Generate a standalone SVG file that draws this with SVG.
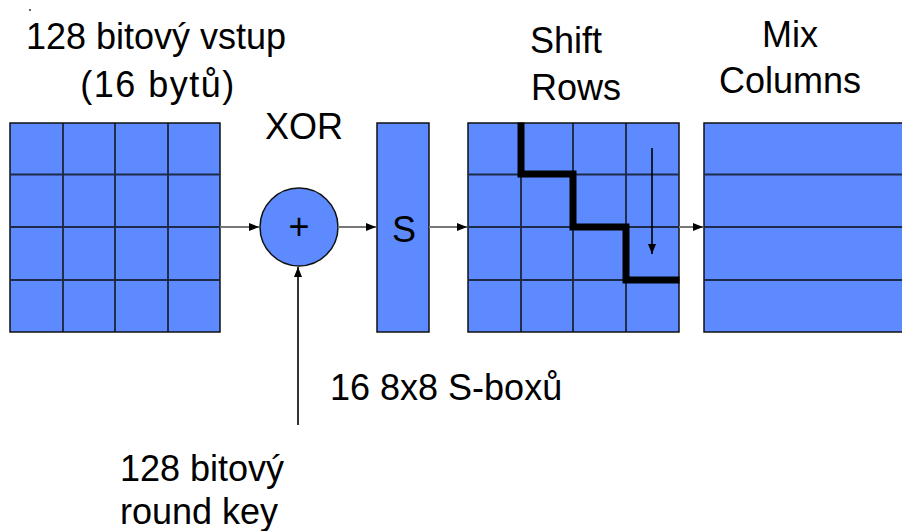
<svg xmlns="http://www.w3.org/2000/svg" width="902" height="531" viewBox="0 0 902 531">
<style>
  .lbl { font-family: "Liberation Sans", Arial, sans-serif; font-size: 36px; fill: #000; }
  .cell { fill: #5d8bff; stroke: #111; stroke-width: 1.5; }
  .row { stroke: #1e2a4a; stroke-width: 2.2; fill: none; }
  .col { stroke: #111; stroke-width: 1.5; fill: none; }
  .flow { stroke: #777; stroke-width: 2; fill: none; }
  .blk { stroke: #000; stroke-width: 1.6; fill: none; }
  .stair { stroke: #000; stroke-width: 7; fill: none; stroke-linejoin: miter; stroke-linecap: square; }
</style>
<defs>
  <marker id="ah" viewBox="0 0 10 10" refX="10" refY="5" markerWidth="10" markerHeight="10" markerUnits="userSpaceOnUse" orient="auto">
    <path d="M0,1 L10,5 L0,9 Z" fill="#000"/>
  </marker>
</defs>
<rect width="902" height="531" fill="#fff"/>
<circle cx="30" cy="10" r="1" fill="#333"/>

<g id="label-input">
  <text class="lbl" x="156" y="49" text-anchor="middle">128 bitový vstup</text>
  <text class="lbl" x="158" y="97" text-anchor="middle" letter-spacing="1.5">(16 bytů)</text>
</g>

<g id="input-grid">
  <rect class="cell" x="10" y="123" width="210" height="209"/>
  <path class="col" d="M63,123V332 M115,123V332 M168,123V332"/>
  <path class="row" d="M10,174.5H220 M10,227H220 M10,280H220"/>
</g>

<g id="xor">
  <text class="lbl" x="304" y="139" text-anchor="middle">XOR</text>
  <circle cx="299" cy="227" r="39" fill="#5d8bff" stroke="#111" stroke-width="1.5"/>
  <text class="lbl" x="299" y="239" text-anchor="middle" font-size="32">+</text>
</g>

<g id="sbox">
  <rect class="cell" x="377" y="123" width="52" height="209"/>
  <text class="lbl" x="404" y="242" text-anchor="middle" font-size="34">S</text>
</g>

<g id="label-sbox">
  <text class="lbl" x="330" y="400" font-size="38">16 8x8 S-boxů</text>
</g>

<g id="shift-rows">
  <text class="lbl" x="530" y="53">Shift</text>
  <text class="lbl" x="531" y="100">Rows</text>
  <rect class="cell" x="468" y="123" width="211" height="209"/>
  <path class="col" d="M521,123V332 M573,123V332 M626,123V332"/>
  <path class="row" d="M468,174.5H679 M468,227H679 M468,280H679"/>
  <path class="stair" d="M521,126V174 H573 V227 H626 V280 H676"/>
  <line class="blk" x1="652" y1="148" x2="652" y2="254" marker-end="url(#ah)"/>
</g>

<g id="mix-columns">
  <text class="lbl" x="790" y="47" text-anchor="middle">Mix</text>
  <text class="lbl" x="790" y="93" text-anchor="middle">Columns</text>
  <rect class="cell" x="704" y="123" width="202" height="209"/>
  <path class="row" d="M704,174.5H902 M704,227H902 M704,280H902"/>
</g>

<g id="label-key">
  <text class="lbl" x="120" y="481">128 bitový</text>
  <text class="lbl" x="120" y="524">round key</text>
</g>

<g id="connectors">
  <line class="flow" x1="220" y1="227" x2="259" y2="227" marker-end="url(#ah)"/>
  <line class="flow" x1="338" y1="227" x2="376" y2="227" marker-end="url(#ah)"/>
  <line class="flow" x1="429" y1="227" x2="467" y2="227" marker-end="url(#ah)"/>
  <line class="flow" x1="679" y1="227" x2="703" y2="227" marker-end="url(#ah)"/>
  <line class="blk" x1="298" y1="425" x2="298" y2="267" marker-end="url(#ah)"/>
</g>
</svg>
